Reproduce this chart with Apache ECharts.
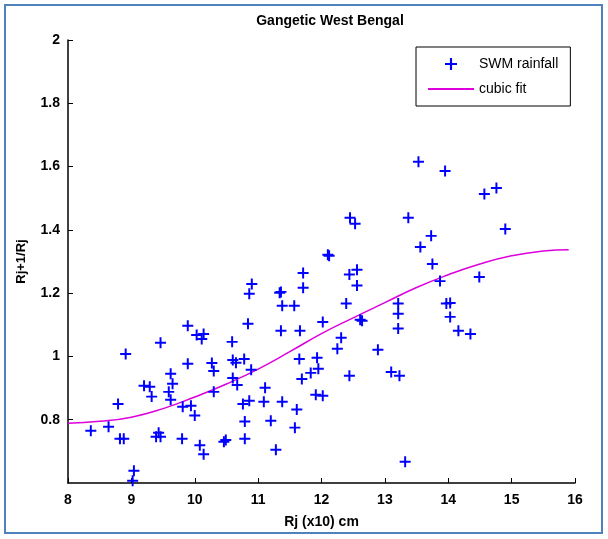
<!DOCTYPE html>
<html>
<head>
<meta charset="utf-8">
<script src="https://cdn.jsdelivr.net/npm/echarts@6/dist/echarts.min.js"></script>
<style>
  html, body { margin: 0; padding: 0; background: #fff; }
  #chart { width: 608px; height: 539px; }
</style>
</head>
<body>
<div id="chart"></div>
<script>
// SWM rainfall points (Rj, Rj+1/Rj)
const rainX = [
  8.36, 8.64, 8.79, 8.82, 8.88, 8.91, 9.04, 9.02, 9.20, 9.29, 9.32, 9.39, 9.43, 9.46, 9.46,
  9.62, 9.65, 9.59, 9.62, 9.80, 9.81, 9.89, 9.89, 9.94, 10.00, 10.03, 10.08, 10.14, 10.14, 10.11,
  10.27, 10.30, 10.30, 10.46, 10.49, 10.59, 10.60, 10.65, 10.78, 10.60, 10.67, 10.84, 10.89, 10.76, 10.86,
  10.79, 10.79, 10.90, 10.86, 11.09, 11.11, 11.20, 11.28, 11.34, 11.36, 11.38, 11.57, 11.36, 11.66, 11.38,
  11.58, 11.61, 11.71, 11.71, 11.65, 11.69, 11.83, 11.95, 11.93, 11.91, 12.02, 12.02, 12.10, 12.45, 12.53,
  12.12, 12.44, 12.56, 12.56, 12.39, 12.61, 12.64, 12.31, 12.25, 12.44, 12.89, 13.10, 13.23, 13.21, 13.21,
  13.21, 13.32, 13.53, 13.95, 13.37, 13.73, 13.56, 13.75, 13.87, 13.97, 14.03, 14.03, 14.16, 14.35, 14.49,
  14.57, 14.76, 14.90
];
const rainY = [
  0.765, 0.778, 0.850, 0.740, 0.740, 1.008, 0.639, 0.607, 0.907, 0.904, 0.873, 0.746, 0.759, 0.746, 1.043,
  0.945, 0.914, 0.888, 0.863, 0.740, 0.841, 1.097, 0.977, 0.844, 0.813, 1.068, 0.719, 0.691, 1.071, 1.055,
  0.979, 0.954, 0.888, 0.730, 0.736, 1.046, 0.989, 0.980, 0.992, 0.932, 0.910, 1.103, 0.958, 0.850, 0.860,
  0.794, 0.740, 1.229, 1.198, 0.857, 0.901, 0.797, 0.705, 1.201, 1.204, 1.160, 1.160, 1.081, 1.081, 0.857,
  0.775, 0.832, 1.264, 1.217, 0.992, 0.929, 0.948, 0.961, 0.996, 0.879, 0.876, 1.109, 1.321, 1.438, 1.419,
  1.318, 1.259, 1.274, 1.224, 1.167, 1.116, 1.113, 1.059, 1.024, 0.939, 1.021, 0.951, 0.939, 1.167, 1.135,
  1.088, 0.667, 1.615, 1.586, 1.438, 1.381, 1.346, 1.292, 1.238, 1.167, 1.169, 1.125, 1.081, 1.071, 1.251,
  1.513, 1.532, 1.403
];

// cubic fit curve
const fitX = [8, 8.5, 9, 9.5, 10, 10.5, 11, 11.5, 12, 12.5, 13, 13.5, 14, 14.5, 15, 15.5, 15.9];
const fitY = [0.789, 0.795, 0.808, 0.835, 0.872, 0.913, 0.960, 1.015, 1.072, 1.122, 1.170, 1.218, 1.258, 1.292, 1.318, 1.333, 1.337];

const FONT = '"Liberation Sans Narrow", "Arial Narrow", "Liberation Sans", sans-serif';
const PLUS = 'path://M4.1,0H5.9V4.1H10V5.9H5.9V10H4.1V5.9H0V4.1H4.1Z';
const DASH = 'path://M0,0H40V1.6H0Z'; // legend line icon, no dot

let chart = echarts.init(document.getElementById('chart'));

let option = {
  backgroundColor: '#fff',
  animation: false,
  title: {
    text: 'Gangetic West Bengal',
    left: 325,
    top: 9,
    textAlign: 'center',
    textStyle: { fontFamily: FONT, fontWeight: 'bold', fontSize: 14, color: '#000' }
  },
  legend: {
    orient: 'vertical',
    left: 416,
    top: 47,
    padding: [10, 12, 10, 12],
    itemGap: 11,
    itemWidth: 46,
    itemHeight: 12,
    borderColor: '#000',
    borderWidth: 1,
    backgroundColor: '#fff',
    textStyle: { fontFamily: FONT, fontSize: 14, color: '#000' },
    data: [
      { name: 'SWM rainfall', icon: PLUS },
      { name: 'cubic fit', icon: DASH }
    ]
  },
  graphic: [{
    type: 'rect',
    shape: { x: 5, y: 5, width: 597, height: 528 },
    style: { fill: 'none', stroke: '#4f81bd', lineWidth: 2 },
    silent: true
  }],
  grid: { left: 68, right: 33, top: 40, bottom: 56 },
  xAxis: {
    type: 'value',
    min: 8, max: 16, interval: 1,
    name: 'Rj (x10) cm',
    nameLocation: 'middle',
    nameGap: 32,
    nameTextStyle: { fontFamily: FONT, fontWeight: 'bold', fontSize: 14, color: '#000' },
    axisLine: { lineStyle: { color: '#000', width: 1.5 } },
    axisTick: { inside: true, length: 5, lineStyle: { color: '#000' } },
    axisLabel: { fontFamily: FONT, fontWeight: 'bold', fontSize: 14, color: '#000', margin: 10 },
    splitLine: { show: false }
  },
  yAxis: {
    type: 'value',
    min: 0.6, max: 2, interval: 0.2,
    name: 'Rj+1/Rj',
    nameLocation: 'middle',
    nameGap: 40,
    nameTextStyle: { fontFamily: FONT, fontWeight: 'bold', fontSize: 13, color: '#000' },
    axisLine: { show: true, lineStyle: { color: '#000', width: 1.5 } },
    axisTick: { show: true, inside: true, length: 5, lineStyle: { color: '#000' } },
    axisLabel: {
      showMinLabel: false,
      fontFamily: FONT, fontWeight: 'bold', fontSize: 14, color: '#000', margin: 8,
      formatter: v => (Math.round(v * 10) / 10).toString()
    },
    splitLine: { show: false }
  },
  series: [
    {
      name: 'SWM rainfall',
      type: 'scatter',
      symbol: PLUS,
      symbolSize: 11,
      itemStyle: { color: '#0000ff', opacity: 1 },
      data: rainX.map((x, i) => [x, rainY[i]]),
      z: 3
    },
    {
      name: 'cubic fit',
      type: 'line',
      smooth: true,
      showSymbol: false,
      symbol: 'none',
      lineStyle: { color: '#dd00dd', width: 1.5 },
      itemStyle: { color: '#dd00dd' },
      data: fitX.map((x, i) => [x, fitY[i]]),
      z: 2
    }
  ]
};

chart.setOption(option);
</script>
</body>
</html>
